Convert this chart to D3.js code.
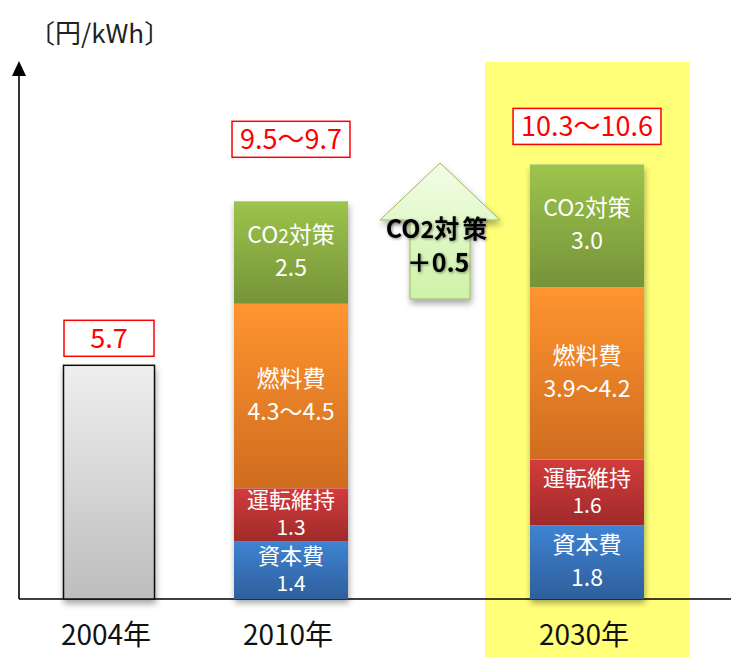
<!DOCTYPE html>
<html>
<head>
<meta charset="utf-8">
<script src="https://cdn.jsdelivr.net/npm/d3@7"></script>
<style>
  body { margin: 0; background: #fff; }
  svg text { font-family: "Noto Sans CJK JP", "Noto Sans", sans-serif; }
</style>
</head>
<body>
<svg width="731" height="657"></svg>
<script>
// ---- data
var years = ["2004年", "2010年", "2030年"];
var totals = [5.7, 9.7, 10.6];
var totalLabels = ["5.7", "9.5〜9.7", "10.3〜10.6"];
var segKeys = ["資本費", "運転維持", "燃料費", "CO2対策"];
var seg2010 = [1.4, 1.3, 4.5, 2.5];
var seg2030 = [1.8, 1.6, 4.2, 3.0];
var segText2010 = ["1.4", "1.3", "4.3〜4.5", "2.5"];
var segText2030 = ["1.8", "1.6", "3.9〜4.2", "3.0"];
var arrowText = ["CO2対策", "＋0.5"];

var svg = d3.select("svg"),
    width = +svg.attr("width"),
    height = +svg.attr("height");

var base = 599, axisX = 19;

var y = d3.scaleLinear().domain([0, 13]).range([base, base - 13 * 41]);
var x = d3.scaleOrdinal().domain(years).range([109, 291, 587]);
var barW = d3.scaleOrdinal().domain(years).range([91, 114, 114]);

var defs = svg.append("defs");

function vgrad(id, c1, c2) {
    var g = defs.append("linearGradient").attr("id", id)
        .attr("x1", 0).attr("y1", 0).attr("x2", 0).attr("y2", 1);
    g.append("stop").attr("offset", "0%").attr("stop-color", c1);
    g.append("stop").attr("offset", "100%").attr("stop-color", c2);
}
vgrad("g-gray", "#efefef", "#bdbdbd");
vgrad("g-0", "#3f83d2", "#2e5f9c");
vgrad("g-1", "#d23c3c", "#a02a2a");
vgrad("g-2", "#ff9530", "#cf6c1f");
vgrad("g-3", "#9dc44c", "#769339");
vgrad("g-arrow", "#f3fde6", "#cdf2a8");

var sh = defs.append("filter").attr("id", "shadow")
    .attr("x", "-20%").attr("y", "-20%").attr("width", "140%").attr("height", "140%");
sh.append("feDropShadow").attr("dx", 1).attr("dy", 4).attr("stdDeviation", 3)
    .attr("flood-color", "#000").attr("flood-opacity", 0.35);

var glow = defs.append("filter").attr("id", "glow")
    .attr("x", "-20%").attr("y", "-30%").attr("width", "140%").attr("height", "160%");
glow.append("feDropShadow").attr("dx", 1).attr("dy", 1).attr("stdDeviation", 1.5)
    .attr("flood-color", "#000").attr("flood-opacity", 0.45);

// highlight for 2030
svg.append("rect")
    .attr("x", x("2030年") - 102).attr("y", 62)
    .attr("width", 205).attr("height", height - 62)
    .attr("fill", "#ffff78");

// axes
svg.append("line")
    .attr("x1", axisX).attr("x2", width)
    .attr("y1", base).attr("y2", base)
    .attr("stroke", "#000").attr("stroke-width", 1.3);
svg.append("line")
    .attr("x1", axisX).attr("x2", axisX)
    .attr("y1", base).attr("y2", 72)
    .attr("stroke", "#000").attr("stroke-width", 1.6);
svg.append("path")
    .attr("d", "M" + (axisX - 7) + ",76 L" + axisX + ",61 L" + (axisX + 7) + ",76 Z")
    .attr("fill", "#000");

svg.append("text")
    .attr("x", 29).attr("y", 43)
    .attr("font-size", 26).attr("fill", "#222")
    .text("〔円/kWh〕");

// 2004 bar
svg.append("rect")
    .attr("x", x("2004年") - barW("2004年") / 2)
    .attr("y", y(totals[0]))
    .attr("width", barW("2004年"))
    .attr("height", base - y(totals[0]))
    .attr("fill", "url(#g-gray)")
    .attr("stroke", "#111").attr("stroke-width", 1.5)
    .attr("filter", "url(#shadow)");

// stacked bars
var rows = [
    {year: "2010年", vals: seg2010, txt: segText2010},
    {year: "2030年", vals: seg2030, txt: segText2030}
].map(function(r) {
    var o = {year: r.year, txt: r.txt};
    segKeys.forEach(function(k, i) { o[k] = r.vals[i]; });
    return o;
});

var series = d3.stack().keys(segKeys)(rows);

var stackG = svg.append("g");
rows.forEach(function(r) {
    var tot = d3.sum(segKeys, function(k) { return r[k]; });
    stackG.append("rect")
        .attr("x", x(r.year) - barW(r.year) / 2)
        .attr("y", y(tot))
        .attr("width", barW(r.year))
        .attr("height", base - y(tot))
        .attr("fill", "#fff")
        .attr("filter", "url(#shadow)");
});

// short segments get a tighter line gap and slightly smaller type
function isShort(d) { return (y(d[0]) - y(d[1])) < 70; }
function gapOf(d) { return isShort(d) ? 27 : 33; }
function midOf(d) { return (y(d[0]) + y(d[1])) / 2; }

series.forEach(function(s, si) {
    var g = stackG.append("g");
    g.selectAll("rect")
        .data(s)
        .enter().append("rect")
        .attr("x", function(d) { return x(d.data.year) - barW(d.data.year) / 2; })
        .attr("y", function(d) { return y(d[1]); })
        .attr("width", function(d) { return barW(d.data.year); })
        .attr("height", function(d) { return y(d[0]) - y(d[1]); })
        .attr("fill", "url(#g-" + si + ")");

    g.selectAll("text.name")
        .data(s)
        .enter().append("text")
        .attr("class", "name")
        .attr("text-anchor", "middle")
        .attr("fill", "#fff")
        .attr("font-size", function(d) { return isShort(d) ? 22 : 23; })
        .attr("x", function(d) { return x(d.data.year); })
        .attr("y", function(d) { return midOf(d) - gapOf(d) / 2 + 7; })
        .each(function(d) {
            var t = d3.select(this);
            if (s.key == "CO2対策") {
                t.append("tspan").text("CO");
                t.append("tspan").attr("font-size", 19).text("2");
                t.append("tspan").text("対策");
            } else {
                t.text(s.key);
            }
        });

    g.selectAll("text.val")
        .data(s)
        .enter().append("text")
        .attr("class", "val")
        .attr("text-anchor", "middle")
        .attr("fill", "#fff")
        .attr("font-size", function(d) { return isShort(d) ? 21 : 23; })
        .attr("x", function(d) { return x(d.data.year); })
        .attr("y", function(d) { return midOf(d) + gapOf(d) / 2 + 7; })
        .text(function(d) { return d.data.txt[si]; });
});

// total labels in red boxes
var lift = [9, 44, 20];
years.forEach(function(yr, i) {
    var g = svg.append("g");
    var bottom = y(totals[i]) - lift[i];
    var t = g.append("text")
        .attr("text-anchor", "middle")
        .attr("x", x(yr))
        .attr("y", bottom - 8)
        .attr("font-size", 27)
        .attr("fill", "#ff0000")
        .text(totalLabels[i]);
    var tw = t.node().getComputedTextLength();
    var bw = Math.max(barW(yr) - 1, tw + 16);
    g.insert("rect", "text")
        .attr("x", x(yr) - bw / 2)
        .attr("y", bottom - 36)
        .attr("width", bw).attr("height", 36)
        .attr("fill", "#fff")
        .attr("stroke", "#ff0000").attr("stroke-width", 1.5);
});

// category labels
svg.append("g").selectAll("text")
    .data(years)
    .enter().append("text")
    .attr("x", function(d) { return x(d) - 3; })
    .attr("y", 645)
    .attr("text-anchor", "middle")
    .attr("font-size", 28)
    .attr("fill", "#111")
    .text(function(d) { return d; });

// arrow between 2010 and 2030
var ax = (x("2010年") + x("2030年")) / 2 + 1;
var aTop = 163, aMid = 220, aBot = 299;
svg.append("path")
    .attr("d", "M" + ax + "," + aTop +
        " L" + (ax + 60) + "," + aMid +
        " L" + (ax + 30) + "," + aMid +
        " L" + (ax + 30) + "," + aBot +
        " L" + (ax - 30) + "," + aBot +
        " L" + (ax - 30) + "," + aMid +
        " L" + (ax - 60) + "," + aMid + " Z")
    .attr("fill", "url(#g-arrow)")
    .attr("stroke", "#9bbb59").attr("stroke-width", 1)
    .attr("filter", "url(#shadow)");

var at = svg.append("g").attr("filter", "url(#glow)");
var t1 = at.append("text")
    .attr("x", ax - 2).attr("y", 238)
    .attr("text-anchor", "middle")
    .attr("font-size", 25).attr("font-weight", "bold")
    .attr("fill", "#000");
t1.append("tspan").text("CO");
t1.append("tspan").attr("font-size", 23).text("2");
t1.append("tspan").attr("letter-spacing", 3).text("対策");
at.append("text")
    .attr("x", ax - 2).attr("y", 272)
    .attr("text-anchor", "middle")
    .attr("font-size", 25).attr("font-weight", "bold")
    .attr("fill", "#000")
    .text(arrowText[1]);
</script>
</body>
</html>
